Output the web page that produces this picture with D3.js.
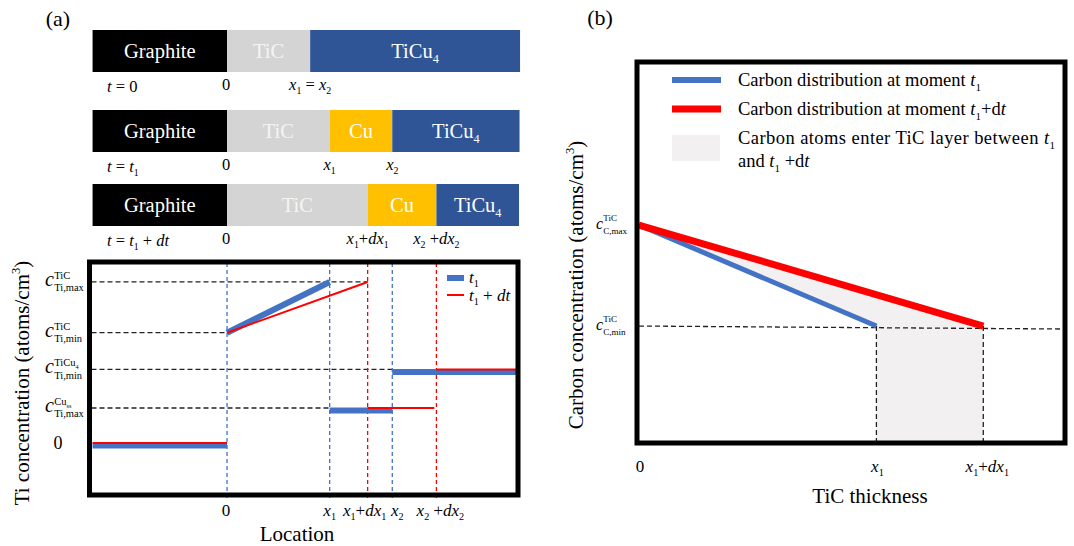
<!DOCTYPE html>
<html>
<head>
<meta charset="utf-8">
<script src="https://cdn.jsdelivr.net/npm/d3@7"></script>
<style>
  body { margin: 0; background: #fff; }
  svg { display: block; }
</style>
</head>
<body>
<svg id="chart" width="1074" height="546"></svg>
<script>
"use strict";

// ---------- panel (a) data ----------
const layerNames = ["Graphite", "TiC", "Cu", "TiCu4"];
// layer boundaries along the location axis at each moment
const stackT0 = [-13.1, 0, 8.1, 8.1, 28.55];
const stackT1 = [-13.1, 0, 10, 16.1, 28.5];
const stackT1dt = [-13.1, 0, 13.7, 20.4, 28.45];
const stageMarksT0 = [0, 8.1];
const stageMarksT1 = [0, 10, 16.1];
const stageMarksT1dt = [0, 13.7, 20.4];

// Ti concentration levels (arbitrary units)
const tiLevels = [4.6, 3.15, 2.1, 1.0, 0];
const tiLevelSup = [[["TiC"]], [["TiC"]], [["TiCu"], ["4", "sub"]], [["Cu"], ["ss", "sub"]], null];
const tiLevelSub = ["Ti,max", "Ti,min", "Ti,min", "Ti,max", null];
const tiGuideEnds = [13.7, 0, 16.1, 10, null];

// concentration profile segments [location, level]
const tiT1 = [[[-13.1, 0], [0, 0]], [[0, 3.15], [10, 4.6]], [[10, 1], [16.1, 1]], [[16.1, 2.1], [28.2, 2.1]]];
const tiT1dt = [[[-13.1, 0], [0, 0]], [[0, 3.15], [13.7, 4.6]], [[13.7, 1], [20.2, 1]], [[20.4, 2.1], [28.2, 2.1]]];

const locBlue = [0, 10, 16.1];
const locRed = [13.7, 20.4];
const locTicks = [0, 10, 13.7, 16.1, 20.4];

// ---------- panel (b) data ----------
const thickTicks = [0, 10, 14.5];
const carbonT1 = [[0, 2], [10, 1]];
const carbonT1dt = [[0, 2], [14.5, 1]];
const cLevels = [2, 1];
const cLevelSub = ["C,max", "C,min"];

// ---------- label pieces ----------
const X1 = [["x", "i"], ["1", "sub"]];
const X2 = [["x", "i"], ["2", "sub"]];
const X1D = [["x", "i"], ["1", "sub"], ["+"], ["dx", "i"], ["1", "sub"]];
const X2D = [["x", "i"], ["2", "sub"], [" +"], ["dx", "i"], ["2", "sub"]];
const stageLabels = [
  [["t", "i"], [" = 0"]],
  [["t", "i"], [" = "], ["t", "i"], ["1", "sub"]],
  [["t", "i"], [" = "], ["t", "i"], ["1", "sub"], [" + "], ["dt", "i"]]
];
const stageMarkLabels = [[[["0"]], [...X1, [" = "], ...X2]], [[["0"]], X1, X2], [[["0"]], X1D, X2D]];
const locTickLabels = [[["0"]], X1, X1D, X2, X2D];
const thickTickLabels = [[["0"]], X1, [["x", "i"], ["1", "sub"], ["+"], ["dx", "i"], ["1", "sub"]]];

const BLUE = "#4472c4", RED = "#ff0000";
const FONT = "Liberation Serif";
const layerFill = { Graphite: "#000000", TiC: "#d4d4d4", Cu: "#ffc000", TiCu4: "#2f5597" };
const layerInk = { Graphite: "#ffffff", TiC: "#f4f4f4", Cu: "#ffffff", TiCu4: "#ffffff" };

const svg = d3.select("#chart").attr("font-family", FONT);

// text with italic / sub / sup pieces
function rich(g, x, y, parts, fs, anchor) {
  const t = g.append("text").attr("x", x).attr("y", y)
      .attr("font-family", FONT).attr("xml:space", "preserve")
      .attr("font-size", fs).attr("text-anchor", anchor || "start");
  let shift = 0;
  parts.forEach(function (p) {
    const kind = p[1] || "";
    let off = 0, size = fs;
    if (kind === "sub") { off = fs * 0.25; size = fs * 0.6; }
    if (kind === "sup") { off = -fs * 0.42; size = fs * 0.6; }
    t.append("tspan")
      .attr("dy", off - shift)
      .attr("font-family", FONT)
      .attr("font-size", size)
      .attr("font-style", kind === "i" ? "italic" : null)
      .text(p[0]);
    shift = off;
  });
  return t;
}

// c with stacked superscript and subscript
function cLabel(g, x, y, sup, sub, fs, small, o) {
  g.append("text").attr("x", x).attr("y", y + o[0]).attr("font-family", FONT)
    .attr("font-size", fs).attr("font-style", "italic").text("c");
  const xs = x + fs * 0.46;
  rich(g, xs, y + o[1], sup, small);
  g.append("text").attr("x", xs).attr("y", y + o[2]).attr("font-family", FONT)
    .attr("font-size", small).text(sub);
}

// ================= panel (a) =================
const gA = svg.append("g");
rich(gA, 58, 26, [["(a)"]], 22, "middle");

const xA = d3.scaleLinear().domain([-13.4, 28.35]).range([89.5, 518]);
const yA = d3.scaleLinear().domain([-1.486, 5.17]).range([495, 262]);

const rowTop = [30, 110, 184];
const rowH = 42;
const stacks = [stackT0, stackT1, stackT1dt];
const stageMarks = [stageMarksT0, stageMarksT1, stageMarksT1dt];

stacks.forEach(function (b, r) {
  layerNames.forEach(function (name, i) {
    const x0 = xA(b[i]), x1 = xA(b[i + 1]);
    if (x1 - x0 < 1) return;
    gA.append("rect")
      .attr("x", x0).attr("y", rowTop[r])
      .attr("width", x1 - x0).attr("height", rowH)
      .attr("fill", layerFill[name]);
    const parts = name === "TiCu4" ? [["TiCu"], ["4", "sub"]] : [[name]];
    rich(gA, (x0 + x1) / 2, rowTop[r] + 28, parts, 20.5, "middle").attr("fill", layerInk[name]);
  });
  rich(gA, 107, rowTop[r] + 62, stageLabels[r], 16.5);
  stageMarks[r].forEach(function (v, k) {
    rich(gA, xA(v) + (v === 0 ? -1 : 0), rowTop[r] + 60, stageMarkLabels[r][k], 16.5, "middle");
  });
});

// plot (a)
const topA = 263, botA = 499;
const left = xA.range()[0];

// horizontal guides
tiLevels.forEach(function (lv, i) {
  if (tiGuideEnds[i] === null) return;
  gA.append("line")
    .attr("x1", left + 2).attr("x2", xA(tiGuideEnds[i]))
    .attr("y1", yA(lv)).attr("y2", yA(lv))
    .attr("stroke", "#222").attr("stroke-width", 1.3).attr("stroke-dasharray", "5,3");
});

// vertical markers
gA.selectAll(".vb").data(locBlue).enter().append("line")
  .attr("x1", d => xA(d)).attr("x2", d => xA(d))
  .attr("y1", topA).attr("y2", botA)
  .attr("stroke", BLUE).attr("stroke-width", 1.3).attr("stroke-dasharray", "4,3");
gA.selectAll(".vr").data(locRed).enter().append("line")
  .attr("x1", d => xA(d)).attr("x2", d => xA(d))
  .attr("y1", topA).attr("y2", botA)
  .attr("stroke", RED).attr("stroke-width", 1.3).attr("stroke-dasharray", "4,3");

const segLine = d3.line().x(d => xA(d[0])).y(d => yA(d[1]));

gA.selectAll(".s1").data(tiT1).enter().append("path")
  .attr("d", segLine)
  .attr("transform", d => d[0][1] === d[1][1] ? "translate(0,2.5)" : null)
  .attr("fill", "none").attr("stroke", BLUE).attr("stroke-width", 6);
gA.selectAll(".s2").data(tiT1dt).enter().append("path")
  .attr("d", segLine)
  .attr("fill", "none").attr("stroke", RED).attr("stroke-width", 2);

// box
gA.append("rect")
  .attr("x", xA.range()[0]).attr("y", yA.range()[1])
  .attr("width", xA.range()[1] - xA.range()[0]).attr("height", yA.range()[0] - yA.range()[1])
  .attr("fill", "none").attr("stroke", "#000").attr("stroke-width", 5);

// legend (a)
gA.append("line").attr("x1", 447).attr("x2", 464).attr("y1", 278).attr("y2", 278)
  .attr("stroke", BLUE).attr("stroke-width", 6);
gA.append("line").attr("x1", 447).attr("x2", 464).attr("y1", 295).attr("y2", 295)
  .attr("stroke", RED).attr("stroke-width", 2);
rich(gA, 469, 283, [["t", "i"], ["1", "sub"]], 17);
rich(gA, 469, 301, [["t", "i"], ["1", "sub"], [" + "], ["dt", "i"]], 17);

// y tick labels
tiLevels.forEach(function (lv, i) {
  if (tiLevelSup[i] === null) {
    rich(gA, 58, yA(lv) + 6, [["0"]], 18, "middle");
  } else {
    cLabel(gA, 45, yA(lv), tiLevelSup[i], tiLevelSub[i], 20, 10.5, [4, -3, 9.5]);
  }
});

// x tick labels
const nudgeA = [-1, 0, -3, 5, 4];
locTicks.forEach(function (v, i) {
  rich(gA, xA(v) + nudgeA[i], 516, locTickLabels[i], 17, "middle");
});

rich(gA, 297, 541, [["Location"]], 21, "middle");
rich(gA, 0, 0, [["Ti concentration (atoms/cm"], ["3", "sup"], [")"]], 21, "middle")
  .attr("transform", "translate(29,383) rotate(-90)");

// ================= panel (b) =================
const gB = svg.append("g");
rich(gB, 600, 25, [["(b)"]], 22, "middle");

const xB = d3.scaleLinear().domain([-0.08, 17.94]).range([637, 1065]);
const yB = d3.scaleLinear().domain([-0.158, 3.614]).range([443, 62]);
const bottomV = yB.domain()[0];

// carbon entering between t1 and t1+dt
const shade = [carbonT1[0], carbonT1[1], [carbonT1[1][0], bottomV],
  [carbonT1dt[1][0], bottomV], carbonT1dt[1]];
gB.append("path")
  .attr("d", d3.line().x(d => xB(d[0])).y(d => yB(d[1]))(shade) + "Z")
  .attr("fill", "#f2f0f0");

// dashed guides
gB.append("line")
  .attr("x1", xB.range()[0] + 2).attr("x2", xB.range()[1])
  .attr("y1", yB(cLevels[1])).attr("y2", yB(cLevels[1]) + 3)
  .attr("stroke", "#222").attr("stroke-width", 1.3).attr("stroke-dasharray", "5,3");
gB.selectAll(".vd").data([carbonT1[1][0], carbonT1dt[1][0]]).enter().append("line")
  .attr("x1", d => xB(d)).attr("x2", d => xB(d))
  .attr("y1", yB(cLevels[1])).attr("y2", yB(bottomV))
  .attr("stroke", "#222").attr("stroke-width", 1.3).attr("stroke-dasharray", "5,3");

const lineB = d3.line().x(d => xB(d[0])).y(d => yB(d[1]));
gB.append("path").attr("d", lineB(carbonT1))
  .attr("fill", "none").attr("stroke", BLUE).attr("stroke-width", 5);
gB.append("path").attr("d", lineB(carbonT1dt))
  .attr("fill", "none").attr("stroke", RED).attr("stroke-width", 7);

gB.append("rect")
  .attr("x", xB.range()[0]).attr("y", yB.range()[1])
  .attr("width", xB.range()[1] - xB.range()[0]).attr("height", yB.range()[0] - yB.range()[1])
  .attr("fill", "none").attr("stroke", "#000").attr("stroke-width", 5);

// legend (b)
gB.append("line").attr("x1", 672).attr("x2", 721).attr("y1", 80).attr("y2", 80)
  .attr("stroke", BLUE).attr("stroke-width", 6);
gB.append("line").attr("x1", 672).attr("x2", 721).attr("y1", 109).attr("y2", 109)
  .attr("stroke", RED).attr("stroke-width", 7);
gB.append("rect").attr("x", 672).attr("y", 135).attr("width", 48).attr("height", 26)
  .attr("fill", "#f2f0f0");
rich(gB, 738, 86, [["Carbon distribution at moment "], ["t", "i"], ["1", "sub"]], 18.5);
rich(gB, 738, 115, [["Carbon distribution at moment "], ["t", "i"], ["1", "sub"], ["+d"], ["t", "i"]], 18.5);
rich(gB, 738, 144, [["Carbon atoms enter TiC layer between "], ["t", "i"], ["1", "sub"]], 18.5)
  .attr("textLength", 317).attr("lengthAdjust", "spacing");
rich(gB, 738, 167, [["and "], ["t", "i"], ["1", "sub"], [" +d"], ["t", "i"]], 18.5);

// y tick labels
cLevels.forEach(function (lv, i) {
  cLabel(gB, 596, yB(lv), [["TiC"]], cLevelSub[i], 16, 9, [4, -4, 8.5]);
});

// x tick labels
const nudgeB = [1, 1, 4];
thickTicks.forEach(function (v, i) {
  rich(gB, xB(v) + nudgeB[i], 472, thickTickLabels[i], 17, "middle");
});

rich(gB, 870, 503, [["TiC thickness"]], 21, "middle");
rich(gB, 0, 0, [["Carbon concentration (atoms/cm"], ["3", "sup"], [")"]], 21, "middle")
  .attr("transform", "translate(583,285) rotate(-90)");
</script>
</body>
</html>
